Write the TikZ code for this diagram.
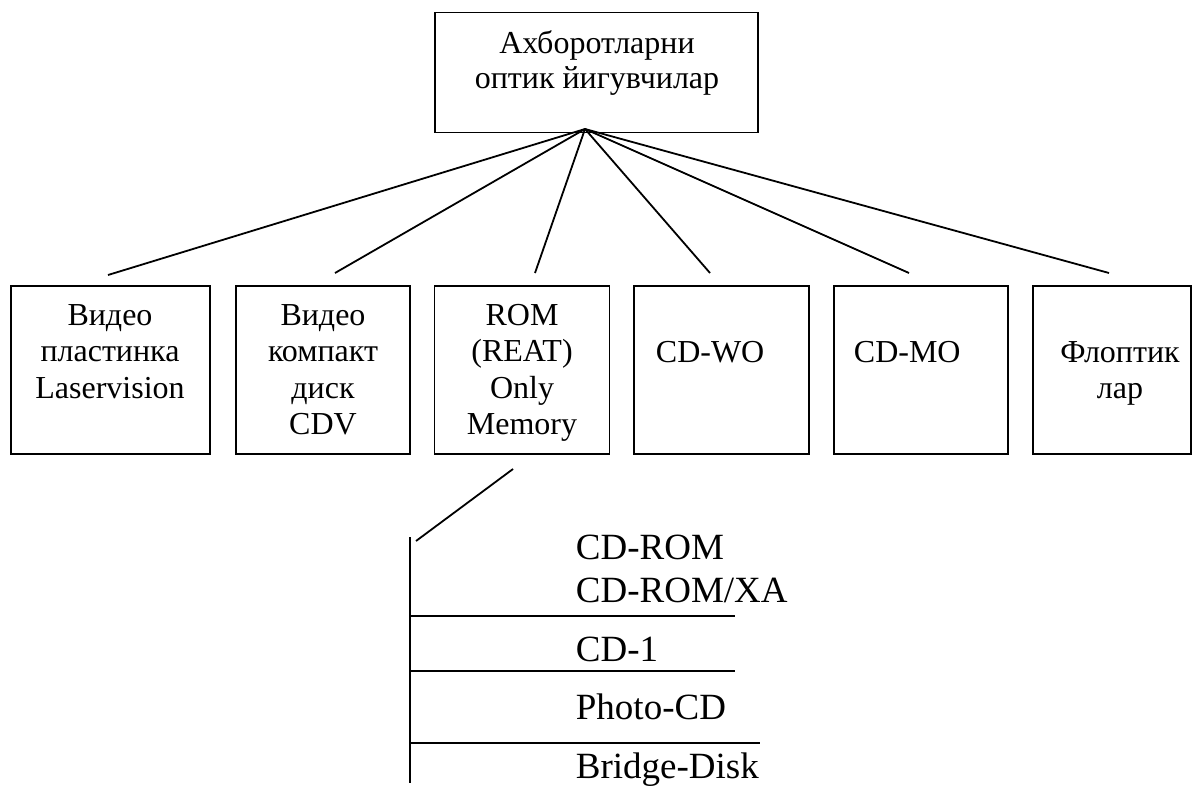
\documentclass[tikz,border=0pt]{standalone}
\usepackage{fontspec}
\setmainfont{Liberation Serif}
\begin{document}
\begin{tikzpicture}[x=1pt,y=-1pt,
  line width=1.8pt,
  box/.style={draw,line width=1.8pt,inner sep=0pt},
  txt/.style={inner sep=0pt,anchor=base,font=\fontsize{32}{36}\selectfont},
  txtl/.style={inner sep=0pt,anchor=base west,font=\fontsize{32}{36}\selectfont},
  item/.style={inner sep=0pt,anchor=base west,font=\fontsize{37}{42}\selectfont}]
\useasboundingbox (0,0) rectangle (1198,785);

% root box
\node[box,minimum width=323pt,minimum height=120pt] (top) at (596.5,72.5) {};
\node[txt] (top1) at (597,53) {Ахборотларни};
\node[txt] (top2) at (597,88) {оптик йигувчилар};

% second-level boxes
\node[box,minimum width=199pt,minimum height=168pt] (b1) at (110.5,370) {};
\node[box,minimum width=174pt,minimum height=168pt] (b2) at (323,370) {};
\node[box,minimum width=175pt,minimum height=168pt] (b3) at (522,370) {};
\node[box,minimum width=175pt,minimum height=168pt] (b4) at (721.5,370) {};
\node[box,minimum width=174pt,minimum height=168pt] (b5) at (921,370) {};
\node[box,minimum width=158pt,minimum height=168pt] (b6) at (1112,370) {};

\node[txt] (b1a) at (110,325) {Видео};
\node[txt] (b1b) at (110,361) {пластинка};
\node[txt] (b1c) at (110,398) {Laservision};

\node[txt] (b2a) at (323,325) {Видео};
\node[txt] (b2b) at (323,361) {компакт};
\node[txt] (b2c) at (323,398) {диск};
\node[txt] (b2d) at (323,434) {CDV};

\node[txt] (b3a) at (522,325) {ROM};
\node[txt] (b3b) at (522,361) {(REAT)};
\node[txt] (b3c) at (522,398) {Only};
\node[txt] (b3d) at (522,434) {Memory};

\node[txtl] (b4a) at (655,362) {CD-WO};
\node[txtl] (b5a) at (853,362) {CD-MO};

\node[txt] (b6a) at (1120,362) {Флоптик};
\node[txt] (b6b) at (1120,398) {лар};

% fan of connectors from the root box
\coordinate (hub) at (585,129);
\coordinate (e1) at (108,275);
\coordinate (e2) at (335,273);
\coordinate (e3) at (535,273);
\coordinate (e4) at (710,273);
\coordinate (e5) at (909,273);
\coordinate (e6) at (1109,273);
\foreach \e in {e1,e2,e3,e4,e5,e6} \draw (hub) -- (\e);

% ROM subtypes list
\coordinate (d1) at (513,469);
\coordinate (d2) at (416,541);
\draw (d1) -- (d2);
\coordinate (vtop) at (410,537);
\coordinate (vbot) at (410,783);
\draw (vtop) -- (vbot);
\coordinate (h1) at (410,616);
\coordinate (h1e) at (735,616);
\coordinate (h2) at (410,671);
\coordinate (h2e) at (735,671);
\coordinate (h3) at (410,743);
\coordinate (h3e) at (760,743);
\draw (h1) -- (h1e);
\draw (h2) -- (h2e);
\draw (h3) -- (h3e);

\node[item] (s1) at (575,559) {CD-ROM};
\node[item] (s2) at (575,602) {CD-ROM/XA};
\node[item] (s3) at (575,661) {CD-1};
\node[item] (s4) at (575,719) {Photo-CD};
\node[item] (s5) at (575,778) {Bridge-Disk};
\end{tikzpicture}
\end{document}
